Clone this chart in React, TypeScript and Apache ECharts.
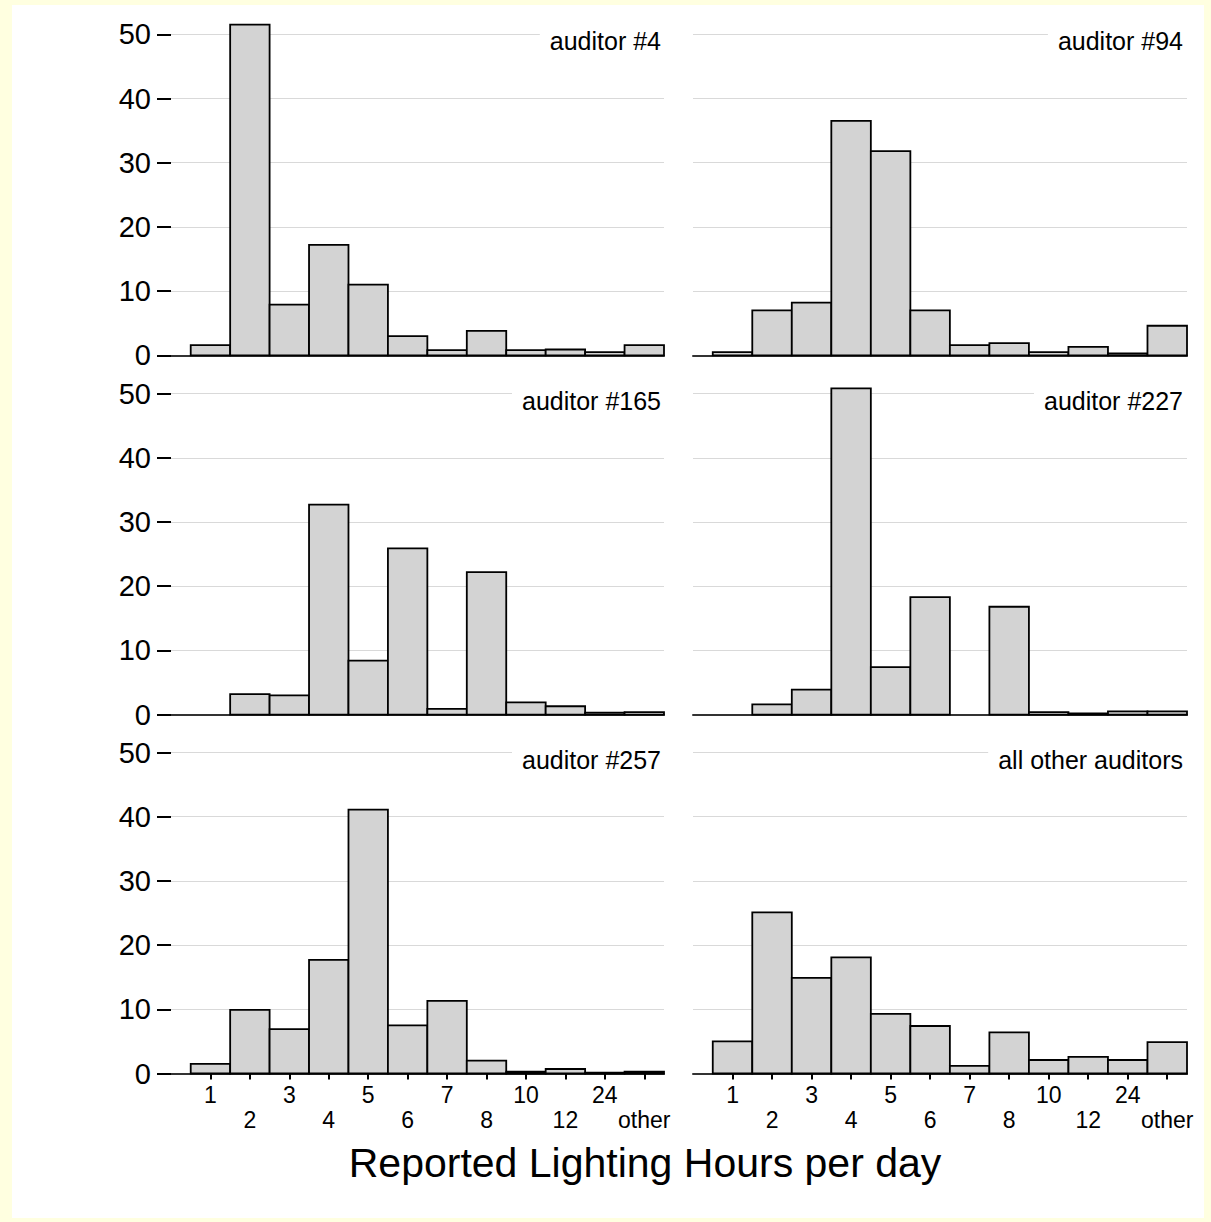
import React, { useEffect, useRef } from 'react';
import * as echarts from 'echarts';

// ---- data ----
const categories = ['1', '2', '3', '4', '5', '6', '7', '8', '10', '12', '24', 'other'];
const panelTitles = ['auditor #4', 'auditor #94', 'auditor #165', 'auditor #227', 'auditor #257', 'all other auditors'];
const auditor4 = [1.6, 51.5, 7.9, 17.2, 11.0, 3.0, 0.8, 3.8, 0.8, 0.9, 0.5, 1.6];
const auditor94 = [0.5, 7.0, 8.2, 36.5, 31.8, 7.0, 1.6, 1.9, 0.5, 1.3, 0.3, 4.6];
const auditor165 = [0, 3.2, 3.0, 32.7, 8.4, 25.9, 0.9, 22.2, 1.9, 1.3, 0.3, 0.4];
const auditor227 = [0, 1.6, 3.9, 50.8, 7.4, 18.3, 0, 16.8, 0.4, 0.2, 0.5, 0.5];
const auditor257 = [1.5, 9.9, 6.9, 17.7, 41.1, 7.5, 11.3, 2.0, 0.3, 0.7, 0.15, 0.3];
const allOthers = [5.0, 25.1, 14.9, 18.1, 9.3, 7.4, 1.2, 6.4, 2.1, 2.6, 2.1, 4.9];
const panelValues = [auditor4, auditor94, auditor165, auditor227, auditor257, allOthers];
const yTicks = [0, 10, 20, 30, 40, 50];
const xAxisTitle = 'Reported Lighting Hours per day';

// ---- layout ----
const W = 1211;
const H = 1222;
const FONT = '"Liberation Sans", Arial, Helvetica, sans-serif';
const colLeft = [171, 693];
const colRight = [664, 1187];
const rowZero = [355.3, 714.6, 1073.5];
const pxPerUnit = 6.42;
const yMax = 52;

function buildOption() {
  const grid: any[] = [];
  const xAxis: any[] = [];
  const yAxis: any[] = [];
  const series: any[] = [];
  const title: any[] = [];
  const tickPositions = categories.map((_, i) => i + 1);

  panelValues.forEach((vals, p) => {
    const row = Math.floor(p / 2);
    const col = p % 2;
    const height = yMax * pxPerUnit;
    grid.push({
      left: colLeft[col],
      top: rowZero[row] - height,
      width: colRight[col] - colLeft[col],
      height,
      containLabel: false,
      outerBoundsMode: 'none',
    });
    const isBottom = row === 2;
    xAxis.push({
      type: 'value',
      gridIndex: p,
      min: 0,
      max: 12.5,
      axisLine: { show: true, onZero: false, lineStyle: { color: '#333', width: 2 } },
      splitLine: { show: false },
      axisTick: {
        show: isBottom,
        length: 6,
        lineStyle: { color: '#000', width: 2 },
        customValues: tickPositions,
      },
      axisLabel: {
        show: isBottom,
        customValues: tickPositions,
        formatter: (v: number) => {
          const idx = Math.round(v) - 1;
          const lab = categories[idx] ?? '';
          return idx % 2 === 1 ? '\n' + lab : lab;
        },
        fontSize: 23,
        lineHeight: 25,
        margin: 9,
        color: '#000',
        fontFamily: FONT,
      },
    });
    const isLeft = col === 0;
    yAxis.push({
      type: 'value',
      gridIndex: p,
      min: 0,
      max: yMax,
      axisLine: { show: false },
      axisTick: {
        show: isLeft,
        length: 14,
        lineStyle: { color: '#000', width: 2 },
        customValues: yTicks,
      },
      axisLabel: {
        show: isLeft,
        customValues: yTicks,
        fontSize: 29,
        margin: 20,
        color: '#000',
        fontFamily: FONT,
      },
      splitLine: { show: true, lineStyle: { color: '#d9d9d9', width: 1 } },
    });
    series.push({
      type: 'custom',
      xAxisIndex: p,
      yAxisIndex: p,
      encode: { x: 0, y: 1 },
      data: vals.map((v, i) => [i + 1, v]),
      renderItem: (params: any, api: any) => {
        const x = api.value(0);
        const v = api.value(1);
        if (!v) return null;
        const p0 = api.coord([x - 0.5, v]);
        const p1 = api.coord([x + 0.5, 0]);
        return {
          type: 'rect',
          shape: { x: p0[0], y: p0[1], width: p1[0] - p0[0], height: p1[1] - p0[1] },
          style: { fill: '#d3d3d3', stroke: '#000', lineWidth: 1.8 },
        };
      },
    });
    title.push({
      text: panelTitles[p],
      right: W - colRight[col],
      top: rowZero[row] - 50 * pxPerUnit - 9.5,
      padding: [4, col === 0 ? 3 : 4, 4, 10],
      backgroundColor: '#fff',
      textStyle: { fontSize: 25, fontWeight: 'normal', color: '#000', fontFamily: FONT },
    });
  });

  return {
    animation: false,
    backgroundColor: '#ffffe0',
    title,
    grid,
    xAxis,
    yAxis,
    series,
    graphic: [
      {
        type: 'rect',
        z: -100,
        silent: true,
        shape: { x: 12, y: 5, width: 1192, height: 1213 },
        style: { fill: '#fff' },
      },
      {
        type: 'text',
        x: 645,
        y: 1163,
        silent: true,
        style: {
          text: xAxisTitle,
          fontSize: 41,
          fontFamily: FONT,
          fill: '#000',
          align: 'center',
          verticalAlign: 'middle',
        },
      },
    ],
  };
}

export default function App() {
  const ref = useRef<HTMLDivElement>(null);
  useEffect(() => {
    if (!ref.current) return;
    const chart = echarts.init(ref.current, undefined, { renderer: 'svg', width: W, height: H });
    chart.setOption(buildOption() as any);
    return () => chart.dispose();
  }, []);
  return <div ref={ref} style={{ position: 'absolute', left: 0, top: 0, width: W, height: H }} />;
}
